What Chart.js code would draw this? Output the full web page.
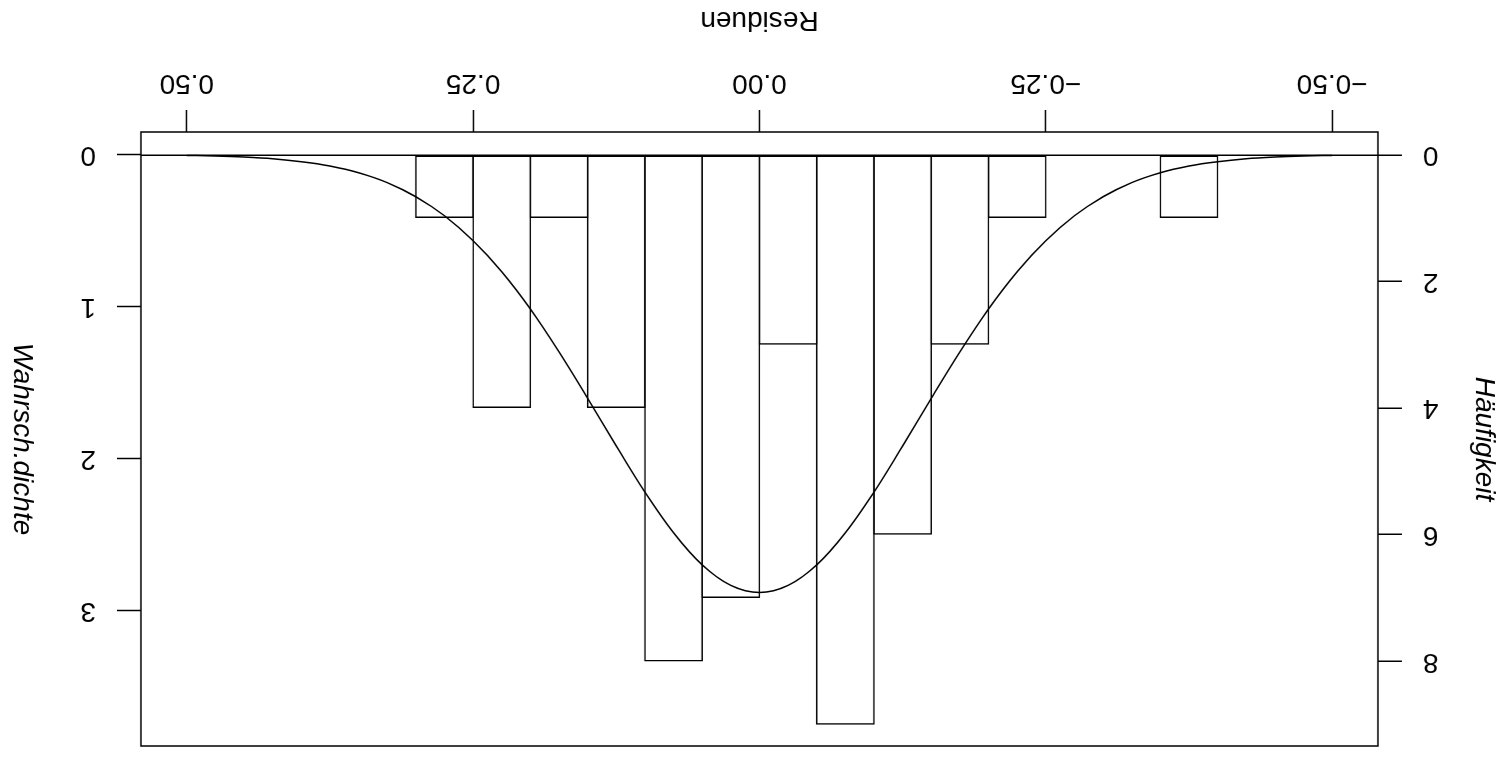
<!DOCTYPE html>
<html>
<head>
<meta charset="utf-8">
<title>Residuen</title>
<script src="https://cdn.jsdelivr.net/npm/chart.js@4/dist/chart.umd.min.js"></script>
<style>
  html, body { margin: 0; padding: 0; background: #fff; }
  #wrap { width: 1504px; height: 757px; transform: rotate(180deg); }
  canvas { display: block; }
</style>
</head>
<body>
<div id="wrap"><canvas id="hist" width="1504" height="757"></canvas></div>
<script>
// histogram of residuals (bin width 0.05, n = 48)
const binMids = [-0.375, -0.325, -0.275, -0.225, -0.175, -0.125, -0.075,
                 -0.025, 0.025, 0.075, 0.125, 0.175, 0.225, 0.275];
const binCounts = [1, 0, 0, 1, 3, 6, 9, 3, 7, 8, 4, 1, 4, 1];
const binWidth = 0.05;
const nObs = 48;

// fitted normal density, read at steps of 0.025
const curveX = [-0.5, -0.475, -0.45, -0.425, -0.4, -0.375, -0.35, -0.325, -0.3, -0.275,
                -0.25, -0.225, -0.2, -0.175, -0.15, -0.125, -0.1, -0.075, -0.05, -0.025,
                0, 0.025, 0.05, 0.075, 0.1, 0.125, 0.15, 0.175, 0.2, 0.225,
                0.25, 0.275, 0.3, 0.325, 0.35, 0.375, 0.4, 0.425, 0.45, 0.475, 0.5];
const curveY = [0.004, 0.008, 0.015, 0.026, 0.045, 0.074, 0.118, 0.183, 0.276, 0.401,
                0.565, 0.770, 1.015, 1.297, 1.602, 1.916, 2.219, 2.487, 2.698, 2.833,
                2.880, 2.833, 2.698, 2.487, 2.219, 1.916, 1.602, 1.297, 1.015, 0.770,
                0.565, 0.401, 0.276, 0.183, 0.118, 0.074, 0.045, 0.026, 0.015, 0.008, 0.004];

const xTicks = [-0.5, -0.25, 0, 0.25, 0.5];
const countTicks = [0, 2, 4, 6, 8];
const densTicks = [0, 1, 2, 3];

const xTitle = "Residuen";
const countTitle = "Häufigkeit";
const densTitle = "Wahrsch.dichte";

const xMin = -0.54, xMax = 0.54;
const densMin = -0.15, densMax = 3.89;
const toCount = nObs * binWidth;

const FONT = '"Liberation Sans", Arial, Helvetica, sans-serif';
const tickFont = { family: FONT, size: 28 };
const LW = 1.5;

// plot region in canvas pixels
const AREA = { left: 126, right: 1363, top: 11, bottom: 625 };

// bar borders are drawn inside the bar, so widen each bar by one line width
// to let neighbouring outlines fall on the same pixels
const binPx = binWidth * (AREA.right - AREA.left) / (xMax - xMin);
const barPct = 1 + LW / binPx;

// box around the plot region plus the three axis titles
const frame = {
  id: "frame",
  afterDraw(chart) {
    const { ctx, chartArea: a } = chart;
    const midX = (a.left + a.right) / 2;
    const midY = (a.top + a.bottom) / 2;
    ctx.save();
    ctx.strokeStyle = "#000";
    ctx.lineWidth = LW;
    ctx.strokeRect(a.left, a.top, a.right - a.left, a.bottom - a.top);

    ctx.fillStyle = "#000";
    ctx.textAlign = "center";
    ctx.textBaseline = "alphabetic";
    ctx.font = "28px " + FONT;
    ctx.fillText(xTitle, midX, 745);

    ctx.font = "italic 28px " + FONT;
    ctx.save();
    ctx.translate(28, midY);
    ctx.rotate(-Math.PI / 2);
    ctx.fillText(countTitle, 0, 0);
    ctx.restore();

    ctx.save();
    ctx.translate(1490, midY);
    ctx.rotate(-Math.PI / 2);
    ctx.fillText(densTitle, 0, 0);
    ctx.restore();
    ctx.restore();
  }
};

const fmtX = v => (v < 0 ? "\u2212" : "") + Math.abs(v).toFixed(2);

// fixed axis sizes, and no label overhang pushed into the layout
const fixWidth = w => s => { s.width = w; s.paddingTop = 0; s.paddingBottom = 0; };
const fixHeight = h => s => { s.height = h; s.paddingLeft = 0; s.paddingRight = 0; };

new Chart(document.getElementById("hist"), {
  type: "bar",
  data: {
    datasets: [
      {
        type: "bar",
        data: binMids.map((m, i) => ({ x: m, y: binCounts[i] })),
        xAxisID: "x",
        yAxisID: "cnt",
        backgroundColor: "rgba(0,0,0,0)",
        borderColor: "#000",
        borderWidth: LW,
        borderSkipped: false,
        barPercentage: barPct,
        categoryPercentage: 1
      },
      {
        type: "line",
        data: curveX.map((x, i) => ({ x: x, y: curveY[i] })),
        xAxisID: "x",
        yAxisID: "dens",
        borderColor: "#000",
        borderWidth: LW,
        pointRadius: 0,
        fill: false,
        cubicInterpolationMode: "monotone"
      }
    ]
  },
  options: {
    responsive: false,
    animation: false,
    events: [],
    layout: { padding: { top: AREA.top, left: 0, right: 0, bottom: 0 } },
    plugins: { legend: { display: false }, tooltip: { enabled: false } },
    scales: {
      x: {
        type: "linear",
        position: "bottom",
        min: xMin,
        max: xMax,
        offset: false,
        afterBuildTicks: s => { s.ticks = xTicks.map(v => ({ value: v })); },
        afterFit: fixHeight(757 - AREA.bottom),
        grid: { offset: false, drawOnChartArea: false, tickLength: 22, tickColor: "#000", tickWidth: LW },
        border: { display: false },
        ticks: { font: tickFont, color: "#000", padding: 10, maxRotation: 0, callback: fmtX }
      },
      cnt: {
        type: "linear",
        position: "left",
        min: densMin * toCount,
        max: densMax * toCount,
        afterBuildTicks: s => { s.ticks = countTicks.map(v => ({ value: v })); },
        afterFit: fixWidth(AREA.left),
        grid: {
          color: c => (c.tick && c.tick.value === 0 ? "#000" : "rgba(0,0,0,0)"),
          lineWidth: LW,
          tickLength: 24,
          tickColor: "#000",
          tickWidth: LW
        },
        border: { display: false },
        ticks: { font: tickFont, color: "#000", padding: 21 }
      },
      dens: {
        type: "linear",
        position: "right",
        min: densMin,
        max: densMax,
        afterBuildTicks: s => { s.ticks = densTicks.map(v => ({ value: v })); },
        afterFit: fixWidth(1504 - AREA.right),
        grid: { drawOnChartArea: false, tickLength: 24, tickColor: "#000", tickWidth: LW },
        border: { display: false },
        ticks: { font: tickFont, color: "#000", padding: 21 }
      }
    }
  },
  plugins: [frame]
});
</script>
</body>
</html>
